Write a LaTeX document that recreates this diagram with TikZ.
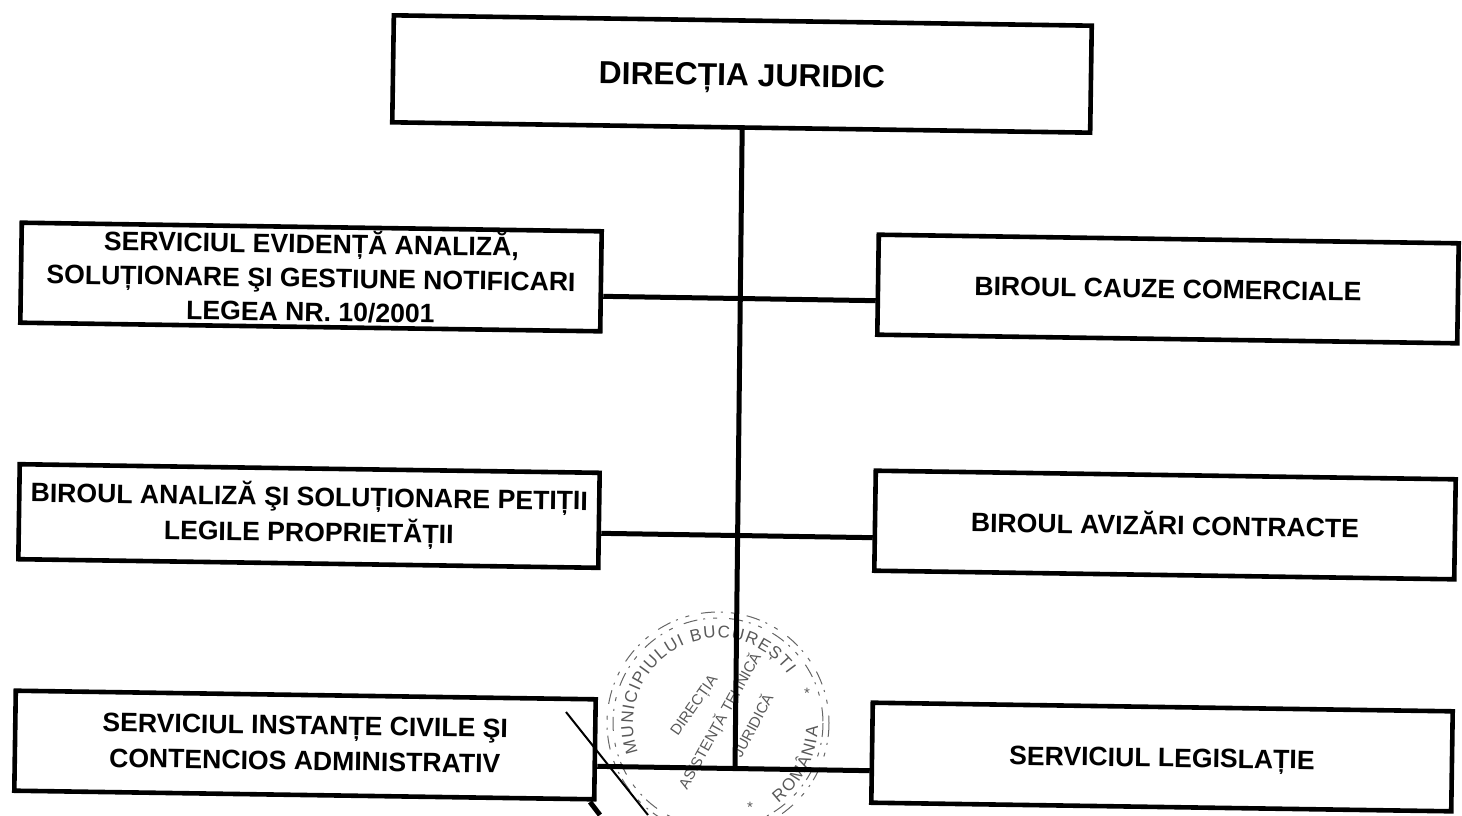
\documentclass[tikz,border=0pt]{standalone}
\usepackage{fontspec}
\setmainfont{Liberation Sans}
\usetikzlibrary{decorations.text}
\newcommand{\pushup}[1]{\rule[-#1]{0pt}{#1}}
\tikzset{x=0.5pt,y=-0.5pt,
  orgbox/.style={draw=black,line width=2.3pt,fill=white,rotate=-0.85,minimum width=290pt,minimum height=50pt,align=center,inner sep=0pt,font=\fontsize{13.3}{17.7}\selectfont\bfseries},
  topbox/.style={orgbox,minimum width=349pt,minimum height=53.5pt,font=\fontsize{15.9}{18}\selectfont\bfseries},
  link/.style={draw=black,line width=2.5pt},
  thinlink/.style={draw=black,line width=1pt},
  seal/.style={draw=black!60,line width=0.5pt,dash pattern=on 7pt off 3pt on 1pt off 4pt on 2pt off 6pt},
  sealtext/.style={text=black!65,font=\fontsize{7.5}{9}\selectfont}}
\begin{document}
\begin{tikzpicture}
\useasboundingbox (0,0) rectangle (1462,815);
\begin{scope}
\clip (0,0) rectangle (1462,815);
\coordinate (sealc) at (718,723);
\draw[seal] (sealc) circle[radius=111];
\draw[seal] (sealc) circle[radius=105];
\path[decorate,decoration={text along path,text align={fit to path},
   text={|\fontsize{8.5}{10}\selectfont\color{black!65}|MUNICIPIULUI BUCUREȘTI}}]
   (sealc) ++(160:85) arc[start angle=160,end angle=325,radius=85];
\path[decorate,decoration={text along path,text align={fit to path},
   text={|\fontsize{8.5}{10}\selectfont\color{black!65}|ROMÂNIA}}]
   (sealc) ++(53:100) arc[start angle=53,end angle=2,radius=100];
\node[sealtext,rotate=55] (sealA) at (695,706) {DIRECȚIA};
\node[sealtext,rotate=61] (sealB) at (720,721) {ASISTENȚĂ TEHNICĂ};
\node[sealtext,rotate=62] (sealC) at (752,725) {JURIDICĂ};
\node[sealtext] (starA) at (807,693) {*};
\node[sealtext] (starB) at (750,807) {*};
\end{scope}

\node[topbox] (dir) at (742,74) {\rule{0pt}{15.5pt}DIRECȚIA JURIDIC};
\node[orgbox] (l1) at (311,277) {SERVICIUL EVIDENȚĂ ANALIZĂ,\\[-0.6pt]SOLUȚIONARE ŞI GESTIUNE NOTIFICARI\\[-0.8pt]LEGEA NR. 10/2001\pushup{1.5pt}};
\node[orgbox] (r1) at (1168,289) {BIROUL CAUZE COMERCIALE};
\node[orgbox,minimum height=47.5pt] (l2) at (309,516) {BIROUL ANALIZĂ ŞI SOLUȚIONARE PETIȚII\\LEGILE PROPRIETĂȚII\pushup{4pt}};
\node[orgbox] (r2) at (1165,525) {BIROUL AVIZĂRI CONTRACTE\pushup{2pt}};
\node[orgbox] (l3) at (305,745) {SERVICIUL INSTANȚE CIVILE ŞI\\CONTENCIOS ADMINISTRATIV\pushup{2pt}};
\node[orgbox] (r3) at (1162,757) {\rule{0pt}{13pt}SERVICIUL LEGISLAȚIE};

\coordinate (join) at (735,769);
\draw[link] ([xshift=0.5pt]dir.south) -- (join);
\draw[link] ([yshift=-7.5pt]l1.east) -- ([yshift=-8pt]r1.west);
\draw[link] ([yshift=-6.5pt]l2.east) -- ([yshift=-8.5pt]r2.west);
\draw[link] ([yshift=-8.5pt]l3.east) -- ([yshift=-9pt]r3.west);

\coordinate (slashA) at (566,712);
\coordinate (slashB) at (648,815);
\coordinate (slashC) at (590,802);
\coordinate (slashD) at (600,815);
\draw[thinlink] (slashA) -- (slashB);
\draw[link] (slashC) -- (slashD);
\end{tikzpicture}
\end{document}
